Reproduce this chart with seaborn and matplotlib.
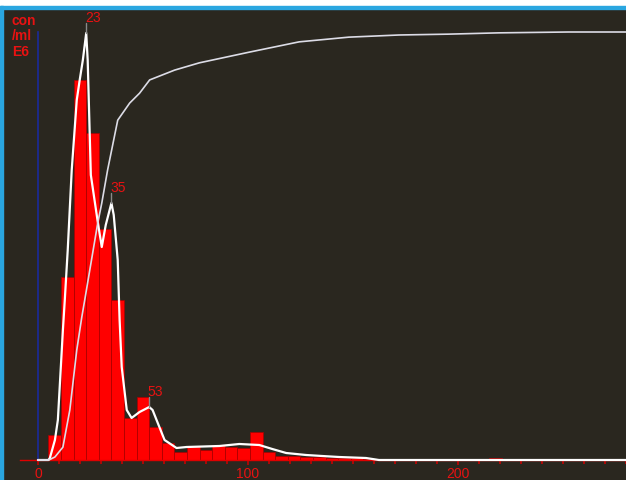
import numpy as np
import pandas as pd
import matplotlib
matplotlib.use("Agg")
import matplotlib.pyplot as plt
import seaborn as sns
from matplotlib.patches import Rectangle

# ---------------- data ----------------
# histogram: bin left edges (size) and concentration (con/ml E6)
bin_width = 6
bin_left = [5, 11, 17, 23, 29, 35, 41, 47, 53, 59, 65, 71, 77, 83, 89, 95,
            101, 107, 113, 119, 125, 131, 137, 143, 149, 155, 161, 167, 173,
            179, 185, 191, 197, 203, 209, 215]
bin_conc = [2.5, 18.3, 38.0, 32.7, 23.1, 16.0, 4.2, 6.3, 3.3, 1.7, 0.8, 1.4,
            1.0, 1.5, 1.3, 1.2, 2.8, 0.8, 0.4, 0.4, 0.35, 0.3, 0.2, 0.2, 0.15,
            0.1, 0, 0, 0, 0, 0, 0, 0, 0, 0, 0.2]

# fitted distribution curve
dens_x = [0, 5.0, 5.7, 8.1, 9.5, 11.9, 12.8, 14.2, 16.1, 18.5, 19.9, 21.4, 23.0,
          23.7, 25.2, 28.5, 30.4, 32.3, 35.0, 36.1, 38.0, 38.9, 39.9, 42.3,
          44.6, 48.4, 53.0, 54.6, 56.5, 60.3, 66.0, 70.8, 86.4, 95.9, 105.4,
          111.6, 118.2, 127.7, 135.3, 143.4, 156.2, 162.4, 280]
dens_y = [0, 0, 0.2, 2.0, 4.0, 13.0, 16.0, 21.0, 29.0, 36.0, 38.0, 40.0, 42.7,
          40.0, 28.5, 23.8, 21.3, 23.5, 25.7, 24.5, 20.0, 14.0, 9.3, 5.0,
          4.2, 4.8, 5.3, 5.0, 4.0, 2.0, 1.2, 1.3, 1.4, 1.6, 1.5,
          1.1, 0.7, 0.5, 0.4, 0.3, 0.2, 0.0, 0.0]

# cumulative curve (%)
cum_x = [0, 5.2, 8.1, 11.9, 15.2, 18.5, 20.9, 22.3, 28.5, 30.4, 33.2, 38.0,
         43.7, 48.4, 53.2, 65.1, 76.9, 100.7, 124.4, 148.1, 171.9, 195.6,
         219.4, 252.6, 280]
cum_pct = [0, 0, 0.7, 3.0, 11.7, 25.7, 33.4, 37.4, 55.4, 60.0, 67.8, 79.4,
           83.4, 85.7, 88.8, 91.1, 92.8, 95.3, 97.7, 98.8, 99.3, 99.5,
           99.8, 100, 100]

peak_x = [23, 35, 53]
peak_labels = ["23", "35", "53"]
x_major = [0, 100, 200]
x_major_labels = ["0", "100", "200"]
unit_text = "con\n/ml\nE6"

# ---------------- style ----------------
BG = "#2a271f"
RED = "#ff0000"
TXT_RED = "#e81212"
FULL = 42.8  # height of 100 % / y-axis top

sns.set_style("dark")
plt.rcParams["font.family"] = ["Liberation Sans", "DejaVu Sans"]

fig = plt.figure(figsize=(6.26, 4.8), dpi=100, facecolor="white")
ax = fig.add_axes([3 / 626, 0, 623 / 626, 471 / 480])
ax.set_facecolor(BG)

edges = [float(b) for b in bin_left] + [float(bin_left[-1] + bin_width)]
hist_df = pd.DataFrame({"size": np.array(bin_left, float) + bin_width / 2,
                        "conc": bin_conc})
sns.histplot(data=hist_df, x="size", weights="conc", bins=edges, color=RED,
             edgecolor="#a80000", linewidth=0.5, alpha=1.0, ax=ax)

sns.lineplot(x=dens_x, y=dens_y, sort=False, estimator=None, color="white",
             linewidth=1.6, ax=ax, zorder=3)

xmin, xmax = (3 - 38) / 2.106, (626 - 38) / 2.106
ymin, ymax = -2.0, 45.1
ax.set_xlim(xmin, xmax)
ax.set_ylim(ymin, ymax)

ax2 = ax.twinx()
ax2.set_ylim(ymin * 100 / FULL, ymax * 100 / FULL)
sns.lineplot(x=cum_x, y=cum_pct, sort=False, estimator=None, color="#dcdce6",
             linewidth=1.2, ax=ax2)
ax2.set_xlim(xmin, xmax)
ax2.set_yticks([])
ax2.set_ylabel("")
ax2.tick_params(axis="x", which="both", bottom=False, top=False,
                labelbottom=False)
for s in ax2.spines.values():
    s.set_visible(False)
ax2.patch.set_visible(False)

# peak labels
for lbl, px in zip(peak_labels, peak_x):
    py = float(np.interp(px, dens_x, dens_y))
    ax2.plot([px, px], [(py) * 100 / FULL, (py + 1.0) * 100 / FULL],
             color="#8a8a8a", lw=1.0, zorder=2)
    ax2.annotate(lbl, (px, py * 100 / FULL), xytext=(-1, 8),
                 textcoords="offset points", ha="left", va="baseline",
                 color=TXT_RED, fontsize=10)

# axes
ax.set_xlabel("")
ax.set_ylabel("")
ax.set_yticks([])
ax.set_xticks(x_major)
ax.set_xticklabels(x_major_labels)
ax.set_xticks(np.arange(0, 281, 10), minor=True)
ax.tick_params(axis="x", which="both", bottom=True, colors="#d00000",
               direction="out", labelcolor=TXT_RED, labelsize=10, pad=1.5,
               width=1.1)
ax.tick_params(axis="x", which="major", length=3.8)
ax.tick_params(axis="x", which="minor", length=2.6)
ax.grid(False)
ax2.grid(False)

ax.spines["bottom"].set_position(("data", 0))
ax.spines["bottom"].set_bounds(-8.5, xmax)
ax.spines["bottom"].set_color("#e00000")
ax.spines["bottom"].set_linewidth(1.0)
ax.spines["left"].set_position(("data", 0))
ax.spines["left"].set_bounds(0, FULL)
ax.spines["left"].set_color("#1a2a9a")
ax.spines["left"].set_linewidth(1.2)
ax.spines["top"].set_visible(False)
ax.spines["right"].set_visible(False)

ax.text(9 / 623, 1 - 5 / 471, unit_text, transform=ax.transAxes, ha="left",
        va="top", color=TXT_RED, fontsize=10, fontweight="bold",
        linespacing=1.13)

# frame
fig.patches.append(Rectangle((0, 0), 3 / 626, 474 / 480, transform=fig.transFigure,
                             color="#2aa6e0", zorder=5))
fig.patches.append(Rectangle((0, 471 / 480), 1, 3 / 480, transform=fig.transFigure,
                             color="#2aa6e0", zorder=5))

fig.savefig("out.png", dpi=100, facecolor="white")
